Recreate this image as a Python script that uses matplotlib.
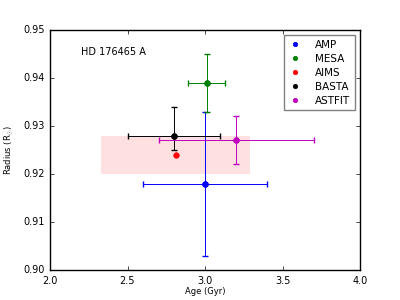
import matplotlib
matplotlib.use('Agg')
import matplotlib.pyplot as plt
from matplotlib.patches import Rectangle

plt.style.use('classic')

# pipeline results for HD 176465 A
names = ['AMP', 'MESA', 'AIMS', 'BASTA', 'ASTFIT']
colors = ['b', 'g', 'r', 'k', 'm']
ages = [3.0, 3.01, 2.81, 2.8, 3.2]
age_lo = [0.4, 0.12, 0.0, 0.3, 0.5]
age_hi = [0.4, 0.12, 0.0, 0.3, 0.5]
radii = [0.918, 0.939, 0.924, 0.928, 0.927]
rad_lo = [0.015, 0.006, 0.0, 0.003, 0.005]
rad_hi = [0.015, 0.006, 0.0, 0.006, 0.005]

# shaded reference box
box_age = [2.33, 3.29]
box_rad = [0.920, 0.928]

fig = plt.figure(figsize=(4, 3), dpi=100, facecolor='white')
ax = fig.add_axes([0.125, 0.1, 0.775, 0.8])

ax.add_patch(Rectangle((box_age[0], box_rad[0]), box_age[1] - box_age[0],
                       box_rad[1] - box_rad[0], facecolor='red', alpha=0.12,
                       edgecolor='none'))

for i in range(len(names)):
    has_err = age_hi[i] > 0 or rad_hi[i] > 0
    if has_err:
        ax.errorbar(ages[i], radii[i],
                    xerr=[[age_lo[i]], [age_hi[i]]],
                    yerr=[[rad_lo[i]], [rad_hi[i]]],
                    fmt='o', color=colors[i], ecolor=colors[i], elinewidth=0.7,
                    capsize=2, capthick=1, markersize=4,
                    markeredgecolor=colors[i])
    # legend handle
    ax.plot(ages[i], radii[i], 'o', color=colors[i], markersize=4,
            markeredgecolor=colors[i], label=names[i])

ax.set_xlim(2.0, 4.0)
ax.set_ylim(0.90, 0.95)
ax.set_xticks([2.0, 2.5, 3.0, 3.5, 4.0])
ax.set_yticks([0.90, 0.91, 0.92, 0.93, 0.94, 0.95])
ax.tick_params(labelsize=7, length=3)
ax.set_xlabel('Age (Gyr)', fontsize=6, labelpad=1)
ax.set_ylabel(r'Radius (R$_{\odot}$)', fontsize=6, labelpad=6)
ax.text(0.1, 0.91, 'HD 176465 A', transform=ax.transAxes, fontsize=7,
        va='center')

leg = ax.legend(loc='upper right', numpoints=1, fontsize=7.5, markerscale=0.8,
                handlelength=1.2, handletextpad=1.3, borderpad=0.45,
                labelspacing=0.38)
leg.get_frame().set_edgecolor('0.5')

fig.savefig('out.png', dpi=100, facecolor='white')
